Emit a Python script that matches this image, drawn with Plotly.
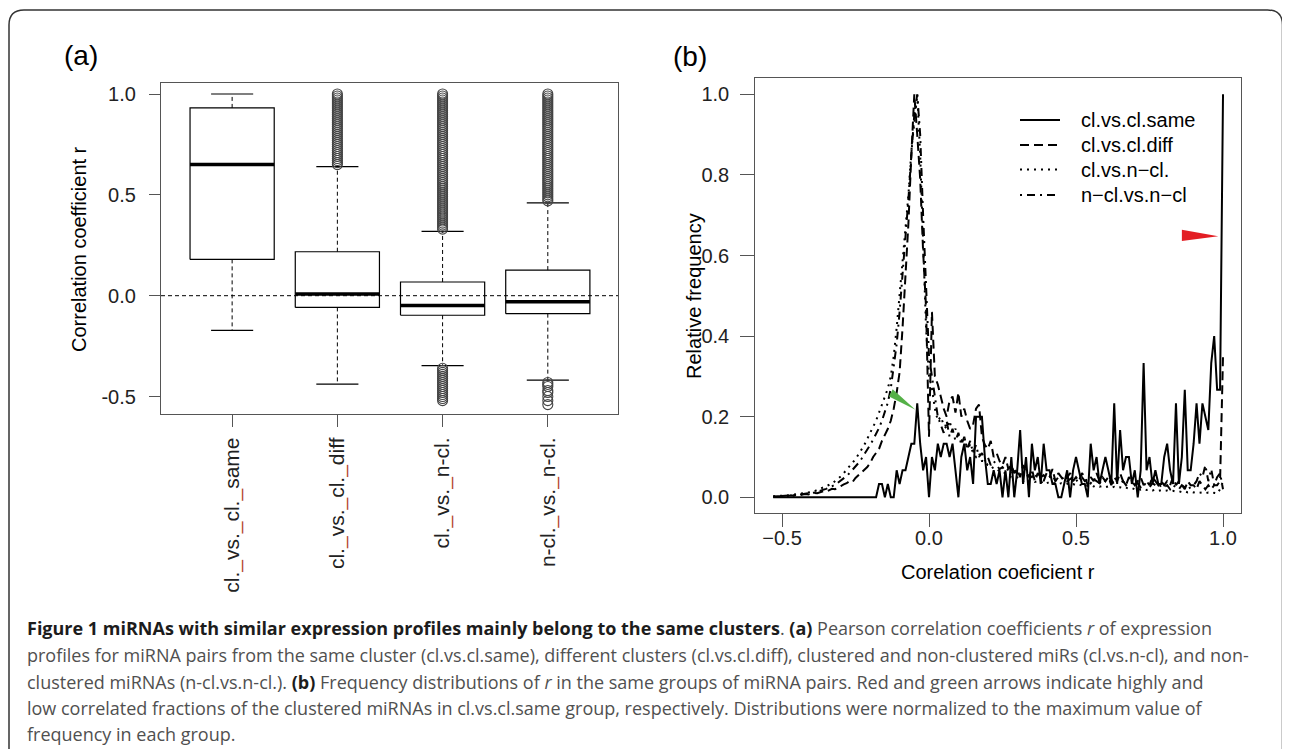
import plotly.graph_objects as go

# The page body has an 8px default margin, so the figure is drawn 8px right/down.
OFF = 8
W, H = 1290 - OFF, 749 - OFF

# ---------------- Panel (a) data: box-plot statistics ----------------
groups = ["cl.vs.cl.same", "cl.vs.cl.diff", "cl.vs.n-cl.", "n-cl.vs.n-cl."]
tick_parts = [["cl.", "vs.", "cl.", "same"],
              ["cl.", "vs.", "cl.", "diff"],
              ["cl.", "vs.", "n-cl."],
              ["n-cl.", "vs.", "n-cl."]]
lower_whisker = [-0.172, -0.438, -0.347, -0.419]
q1 = [0.180, -0.058, -0.097, -0.089]
median = [0.650, 0.008, -0.048, -0.030]
q3 = [0.931, 0.218, 0.068, 0.127]
upper_whisker = [1.000, 0.640, 0.319, 0.460]
outliers_high = [
    [],
    [0.65, 0.66, 0.67, 0.68, 0.69, 0.70, 0.71, 0.72, 0.73, 0.74, 0.75, 0.76, 0.77,
     0.78, 0.79, 0.80, 0.81, 0.82, 0.83, 0.84, 0.85, 0.86, 0.87, 0.88, 0.89, 0.90,
     0.91, 0.92, 0.93, 0.94, 0.95, 0.96, 0.97, 0.98, 0.99, 1.00],
    [0.33, 0.34, 0.35, 0.36, 0.37, 0.38, 0.39, 0.40, 0.41, 0.42, 0.43, 0.44, 0.45,
     0.46, 0.47, 0.48, 0.49, 0.50, 0.51, 0.52, 0.53, 0.54, 0.55, 0.56, 0.57, 0.58,
     0.59, 0.60, 0.61, 0.62, 0.63, 0.64, 0.65, 0.66, 0.67, 0.68, 0.69, 0.70, 0.71,
     0.72, 0.73, 0.74, 0.75, 0.76, 0.77, 0.78, 0.79, 0.80, 0.81, 0.82, 0.83, 0.84,
     0.85, 0.86, 0.87, 0.88, 0.89, 0.90, 0.91, 0.92, 0.93, 0.94, 0.95, 0.96, 0.97,
     0.98, 0.99, 1.00],
    [0.47, 0.48, 0.49, 0.50, 0.51, 0.52, 0.53, 0.54, 0.55, 0.56, 0.57, 0.58, 0.59,
     0.60, 0.61, 0.62, 0.63, 0.64, 0.65, 0.66, 0.67, 0.68, 0.69, 0.70, 0.71, 0.72,
     0.73, 0.74, 0.75, 0.76, 0.77, 0.78, 0.79, 0.80, 0.81, 0.82, 0.83, 0.84, 0.85,
     0.86, 0.87, 0.88, 0.89, 0.90, 0.91, 0.92, 0.93, 0.94, 0.95, 0.96, 0.97, 0.98,
     0.99, 1.00],
]
outliers_low = [
    [],
    [],
    [-0.36, -0.37, -0.38, -0.39, -0.40, -0.41, -0.42, -0.43, -0.44, -0.45, -0.46,
     -0.47, -0.48, -0.49, -0.50, -0.51, -0.52],
    [-0.43, -0.44, -0.45, -0.47, -0.48, -0.50, -0.52, -0.54],
]

# ---------------- Panel (b) data: relative frequency distributions ----------------
bin_start, bin_width, n_bins = -0.53, 0.01, 154
r_bins = [round(bin_start + bin_width * k, 2) for k in range(n_bins)]

cl_same = (
    [0, 0, 0] +
    [0] * 10 + [0] * 10 + [0] * 10 +
    [0, 0, 0, 0.033, 0.033, 0, 0.033, 0, 0, 0.067] +
    [0.033, 0.067, 0.067, 0.1, 0.133, 0.133, 0.233, 0.133, 0.067, 0.1] +
    [0, 0.1, 0.067, 0.133, 0.1, 0.133, 0.133, 0.1, 0.133, 0.067] +
    [0, 0.1, 0.133, 0.067, 0.1, 0.033, 0.2, 0.2, 0.2, 0.1] +
    [0.033, 0.033, 0.067, 0.033, 0.067, 0, 0.067, 0, 0.1, 0] +
    [0.067, 0.167, 0.033, 0.1, 0, 0.133, 0.067, 0.1, 0.033, 0.133] +
    [0.067, 0.067, 0.033, 0.033, 0, 0, 0.033, 0.067, 0, 0.067] +
    [0.1, 0.067, 0.033, 0.033, 0, 0.133, 0.067, 0.1, 0.033, 0.067] +
    [0.1, 0.067, 0.033, 0.233, 0.033, 0.167, 0.067, 0.1, 0.1, 0.033] +
    [0.067, 0, 0.067, 0.333, 0.067, 0.1, 0.033, 0.067, 0.033, 0.033] +
    [0.1, 0.133, 0.067, 0.033, 0.233, 0.033, 0.1, 0.267, 0.067, 0.067] +
    [0.133, 0.233, 0.133, 0.233, 0.2, 0.167, 0.333, 0.4, 0.267, 0.267] +
    [1.0]
)
cl_diff = (
    [0.002, 0.002, 0.003] +
    [0.003, 0.004, 0.003, 0.005, 0.004, 0.006, 0.005, 0.007, 0.008, 0.007] +
    [0.009, 0.011, 0.010, 0.013, 0.015, 0.014, 0.018, 0.021, 0.020, 0.025] +
    [0.028, 0.032, 0.035, 0.040, 0.038, 0.048, 0.055, 0.060, 0.068, 0.075] +
    [0.085, 0.10, 0.11, 0.12, 0.14, 0.155, 0.17, 0.19, 0.22, 0.26] +
    [0.31, 0.42, 0.55, 0.68, 0.85, 1.0, 0.90, 0.79, 0.61, 0.47] +
    [0.15, 0.46, 0.30, 0.28, 0.25, 0.22, 0.20, 0.24, 0.25, 0.21] +
    [0.26, 0.20, 0.22, 0.19, 0.17, 0.18, 0.22, 0.23, 0.15, 0.13] +
    [0.12, 0.14, 0.10, 0.11, 0.09, 0.08, 0.10, 0.07, 0.08, 0.06] +
    [0.07, 0.05, 0.08, 0.06, 0.05, 0.07, 0.04, 0.06, 0.05, 0.04] +
    [0.06, 0.05, 0.07, 0.04, 0.06, 0.05, 0.04, 0.05, 0.06, 0.04] +
    [0.05, 0.04, 0.06, 0.05, 0.03, 0.05, 0.04, 0.06, 0.04, 0.05] +
    [0.04, 0.05, 0.03, 0.05, 0.04, 0.06, 0.04, 0.03, 0.05, 0.04] +
    [0.03, 0.04, 0.05, 0.03, 0.04, 0.03, 0.05, 0.04, 0.03, 0.04] +
    [0.03, 0.04, 0.03, 0.05, 0.03, 0.04, 0.03, 0.02, 0.04, 0.03] +
    [0.03, 0.02, 0.04, 0.03, 0.02, 0.03, 0.02, 0.03, 0.03, 0.04] +
    [0.35]
)
cl_ncl = (
    [0.002, 0.003, 0.003] +
    [0.004, 0.004, 0.005, 0.006, 0.006, 0.007, 0.008, 0.009, 0.010, 0.012] +
    [0.013, 0.015, 0.018, 0.020, 0.023, 0.027, 0.030, 0.034, 0.040, 0.045] +
    [0.052, 0.060, 0.068, 0.077, 0.086, 0.095, 0.105, 0.118, 0.130, 0.145] +
    [0.16, 0.175, 0.19, 0.21, 0.23, 0.25, 0.27, 0.30, 0.35, 0.42] +
    [0.50, 0.58, 0.66, 0.75, 0.86, 0.93, 1.0, 0.85, 0.62, 0.42] +
    [0.30, 0.27, 0.22, 0.19, 0.20, 0.18, 0.17, 0.19, 0.16, 0.17] +
    [0.15, 0.14, 0.15, 0.12, 0.13, 0.11, 0.10, 0.11, 0.09, 0.09] +
    [0.08, 0.08, 0.07, 0.07, 0.065, 0.06, 0.06, 0.055, 0.05, 0.05] +
    [0.05, 0.045, 0.04, 0.045, 0.04, 0.042, 0.038, 0.04, 0.036, 0.04] +
    [0.035, 0.038, 0.034, 0.036, 0.033, 0.035, 0.032, 0.034, 0.031, 0.033] +
    [0.030, 0.032, 0.029, 0.031, 0.028, 0.030, 0.027, 0.029, 0.026, 0.028] +
    [0.025, 0.027, 0.024, 0.026, 0.023, 0.025, 0.022, 0.024, 0.021, 0.023] +
    [0.020, 0.022, 0.019, 0.021, 0.018, 0.020, 0.017, 0.019, 0.016, 0.018] +
    [0.016, 0.017, 0.015, 0.016, 0.014, 0.015, 0.013, 0.015, 0.012, 0.014] +
    [0.012, 0.013, 0.011, 0.012, 0.010, 0.012, 0.010, 0.011, 0.009, 0.020] +
    [0.04]
)
ncl_ncl = (
    [0.002, 0.002, 0.003] +
    [0.003, 0.004, 0.004, 0.005, 0.005, 0.006, 0.007, 0.008, 0.008, 0.010] +
    [0.011, 0.012, 0.014, 0.016, 0.018, 0.021, 0.024, 0.027, 0.031, 0.036] +
    [0.041, 0.047, 0.053, 0.060, 0.068, 0.076, 0.085, 0.095, 0.106, 0.118] +
    [0.13, 0.143, 0.157, 0.172, 0.19, 0.21, 0.235, 0.27, 0.32, 0.38] +
    [0.46, 0.55, 0.64, 0.74, 0.85, 0.95, 1.0, 0.90, 0.70, 0.50] +
    [0.35, 0.30, 0.25, 0.20, 0.18, 0.16, 0.19, 0.15, 0.17, 0.14] +
    [0.16, 0.13, 0.15, 0.12, 0.14, 0.11, 0.13, 0.10, 0.11, 0.09] +
    [0.10, 0.08, 0.09, 0.08, 0.07, 0.075, 0.065, 0.07, 0.06, 0.065] +
    [0.06, 0.055, 0.06, 0.05, 0.055, 0.05, 0.06, 0.045, 0.05, 0.055] +
    [0.045, 0.05, 0.055, 0.04, 0.05, 0.045, 0.05, 0.04, 0.045, 0.05] +
    [0.04, 0.045, 0.05, 0.04, 0.045, 0.035, 0.045, 0.04, 0.035, 0.045] +
    [0.04, 0.035, 0.045, 0.03, 0.04, 0.035, 0.04, 0.03, 0.035, 0.04] +
    [0.03, 0.035, 0.025, 0.035, 0.03, 0.025, 0.035, 0.03, 0.025, 0.03] +
    [0.025, 0.03, 0.02, 0.03, 0.025, 0.02, 0.03, 0.025, 0.02, 0.025] +
    [0.03, 0.04, 0.06, 0.05, 0.08, 0.04, 0.07, 0.03, 0.05, 0.06] +
    [0.02]
)
series_names = ["cl.vs.cl.same", "cl.vs.cl.diff", "cl.vs.n\u2212cl.", "n\u2212cl.vs.n\u2212cl"]
series_values = [cl_same, cl_diff, cl_ncl, ncl_ncl]
series_dash = ["solid", "9px,5px", "2px,5px", "2px,5px,8px,5px"]

# ---------------- helpers (window pixel -> paper) ----------------
def px(x):
    return (x - OFF) / W

def py(y):
    return 1 - (y - OFF) / H

FONT = "Arial, Liberation Sans, sans-serif"
fig = go.Figure()

# ---------------- Panel (a) ----------------
BOX_HW, CAP_HW = 0.4, 0.2
for i in range(len(groups)):
    fig.add_trace(go.Scatter(
        x=[i - BOX_HW, i + BOX_HW, i + BOX_HW, i - BOX_HW, i - BOX_HW],
        y=[q1[i], q1[i], q3[i], q3[i], q1[i]],
        mode="lines", line=dict(color="black", width=1.2),
        xaxis="x", yaxis="y", showlegend=False, hoverinfo="skip"))
    fig.add_trace(go.Scatter(
        x=[i - BOX_HW, i + BOX_HW], y=[median[i], median[i]],
        mode="lines", line=dict(color="black", width=3.5),
        xaxis="x", yaxis="y", showlegend=False, hoverinfo="skip"))
    fig.add_trace(go.Scatter(
        x=[i, i, None, i, i],
        y=[q3[i], upper_whisker[i], None, q1[i], lower_whisker[i]],
        mode="lines", line=dict(color="black", width=1, dash="4px,3px"),
        xaxis="x", yaxis="y", showlegend=False, hoverinfo="skip"))
    fig.add_trace(go.Scatter(
        x=[i - CAP_HW, i + CAP_HW, None, i - CAP_HW, i + CAP_HW],
        y=[upper_whisker[i], upper_whisker[i], None, lower_whisker[i], lower_whisker[i]],
        mode="lines", line=dict(color="black", width=1.2),
        xaxis="x", yaxis="y", showlegend=False, hoverinfo="skip"))
    out = outliers_high[i] + outliers_low[i]
    if out:
        fig.add_trace(go.Scatter(
            x=[i] * len(out), y=out, mode="markers",
            marker=dict(symbol="circle-open", size=10, color="#444",
                        line=dict(width=1.1, color="#444")),
            xaxis="x", yaxis="y", showlegend=False, hoverinfo="skip"))

US = '<span style="color:#b5462c">_</span>'
ticktext_a = [US.join(p) for p in tick_parts]

# ---------------- Panel (b) ----------------
for name, vals, dash in zip(series_names, series_values, series_dash):
    fig.add_trace(go.Scatter(
        x=r_bins, y=vals, mode="lines", name=name,
        line=dict(color="black", width=2, dash=dash),
        xaxis="x2", yaxis="y2", showlegend=False, hoverinfo="skip"))

axis_common = dict(showline=True, mirror=True, linecolor="#555", linewidth=1.2,
                   ticks="outside", tickcolor="#555", tickwidth=1.2, showgrid=False,
                   zeroline=False)
tf = dict(family=FONT, size=20, color="#222")

fig.update_layout(
    width=W, height=H, margin=dict(l=0, r=0, t=0, b=0),
    paper_bgcolor="white", plot_bgcolor="white",
    showlegend=False,
    xaxis=dict(domain=[px(161), px(618)], range=[-0.676, 3.667],
               tickvals=list(range(len(groups))), ticktext=ticktext_a,
               tickangle=-90, ticklen=12, ticklabelstandoff=2,
               tickfont=dict(family=FONT, size=21, color="#222"), **axis_common),
    yaxis=dict(domain=[py(414), py(82.7)], range=[-0.5865, 1.056],
               tickvals=[-0.5, 0, 0.5, 1.0], ticktext=["-0.5", "0.0", "0.5", "1.0"],
               ticklen=11, ticklabelstandoff=9, tickfont=tf, **axis_common),
    xaxis2=dict(domain=[px(755.3), px(1241)], range=[-0.5908, 1.0612],
                tickvals=[-0.5, 0, 0.5, 1.0],
                ticktext=["\u22120.5", "0.0", "0.5", "1.0"],
                ticklen=13, ticklabelstandoff=-6, anchor="y2", tickfont=tf, **axis_common),
    yaxis2=dict(domain=[py(513.3), py(78.3)], range=[-0.0397, 1.0397],
                tickvals=[0, 0.2, 0.4, 0.6, 0.8, 1.0],
                ticktext=["0.0", "0.2", "0.4", "0.6", "0.8", "1.0"],
                ticklen=14, ticklabelstandoff=7, anchor="x2", tickfont=tf, **axis_common),
)

shapes = []
shapes.append(dict(type="line", xref="x domain", yref="y", x0=0, x1=1, y0=0, y1=0,
                   line=dict(color="black", width=1, dash="4px,3px")))
shapes.append(dict(type="path", xref="x2", yref="y2",
                   path="M 0.86,0.664 L 0.984,0.648 L 0.86,0.636 Z",
                   fillcolor="#e31e24", line=dict(width=0)))
shapes.append(dict(type="path", xref="x2", yref="y2",
                   path="M -0.1235,0.268 L -0.046,0.217 L -0.136,0.250 Z",
                   fillcolor="#55b047", line=dict(width=0)))
legend_rows = [120, 145, 169.5, 195]
for yy, dash in zip(legend_rows, series_dash):
    shapes.append(dict(type="line", xref="paper", yref="paper",
                       x0=px(1020), x1=px(1060), y0=py(yy), y1=py(yy),
                       line=dict(color="black", width=2, dash=dash)))
x0f, x1f, ytop, ybot, rr = 9, 1282.5, 10, 760, 15
frame_path = (f"M {px(x0f)},{py(ybot)} L {px(x0f)},{py(ytop + rr)} "
              f"Q {px(x0f)},{py(ytop)} {px(x0f + rr)},{py(ytop)} "
              f"L {px(x1f - rr)},{py(ytop)} Q {px(x1f)},{py(ytop)} {px(x1f)},{py(ytop + rr)} "
              f"L {px(x1f)},{py(ybot)}")
shapes.append(dict(type="path", xref="paper", yref="paper", path=frame_path,
                   line=dict(color="#333", width=1.5)))
fig.update_layout(shapes=shapes)

ann = []
def text(x, y, s, size=20, color="black", xanchor="center", yanchor="middle",
         angle=0, family=FONT):
    ann.append(dict(x=px(x), y=py(y), xref="paper", yref="paper", text=s,
                    showarrow=False, xanchor=xanchor, yanchor=yanchor, textangle=angle,
                    font=dict(family=family, size=size, color=color)))

text(81, 55, "(a)", size=28)
text(690, 57, "(b)", size=28)
text(79, 249, "Correlation coefficient r", angle=-90)
text(694, 296, "Relative frequency", angle=-90)
text(998, 572, "Corelation coeficient r")
for yy, name in zip(legend_rows, series_names):
    text(1079, yy, name, xanchor="left")

CAP = "Open Sans, Noto Sans, sans-serif"
BLK = "#1c1c1c"
def b(s):
    return f'<b><span style="color:{BLK}">{s}</span></b>'
cap_lines = [
    b("Figure 1 miRNAs with similar expression profiles mainly belong to the same clusters")
    + ". " + b("(a)") + " Pearson correlation coefficients <i>r</i> of expression",
    "profiles for miRNA pairs from the same cluster (cl.vs.cl.same), different clusters "
    "(cl.vs.cl.diff), clustered and non-clustered miRs (cl.vs.n-cl), and non-",
    "clustered miRNAs (n-cl.vs.n-cl.). " + b("(b)") + " Frequency distributions of <i>r</i> "
    "in the same groups of miRNA pairs. Red and green arrows indicate highly and",
    "low correlated fractions of the clustered miRNAs in cl.vs.cl.same group, respectively. "
    "Distributions were normalized to the maximum value of",
    "frequency in each group.",
]
cap_y = [628, 655, 682, 708, 734]
for yy, s in zip(cap_y, cap_lines):
    text(25, yy, s, size=18, color="#505050", xanchor="left", family=CAP)

fig.update_layout(annotations=ann)
fig.write_html("out.html")
